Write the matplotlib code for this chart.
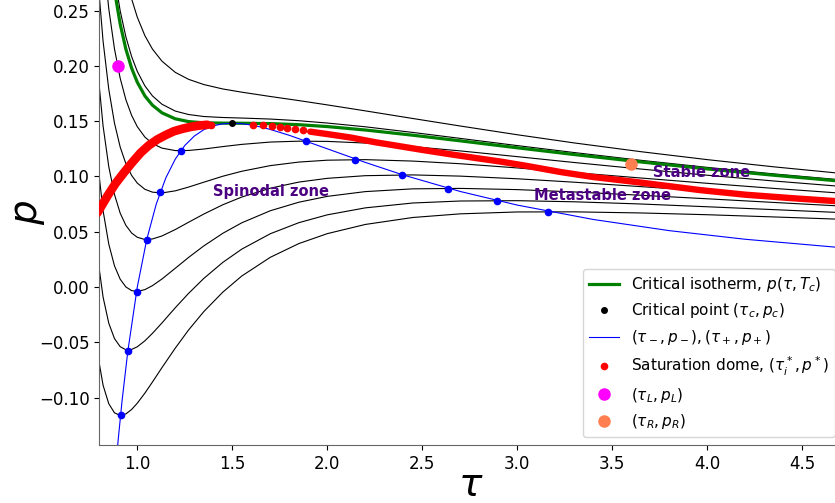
import numpy as np
import matplotlib.pyplot as plt

# tau sample positions shared by all isotherms
tau = [0.79, 0.82, 0.85, 0.88, 0.91, 0.94, 0.97, 1.00, 1.04, 1.08, 1.13, 1.20, 1.27, 1.35,
       1.45, 1.55, 1.70, 1.85, 2.00, 2.20, 2.45, 2.70, 3.00, 3.30, 3.65, 4.00, 4.35, 4.72]

# isotherms p(tau) (lowest to highest temperature)
p_iso1 = [-0.0592, -0.0888, -0.1055, -0.1137, -0.1161, -0.1147, -0.1107, -0.1050, -0.0959, -0.0858,
          -0.0728, -0.0552, -0.0388, -0.0222, -0.0046, 0.0100, 0.0269, 0.0393, 0.0483, 0.0566,
          0.0629, 0.0662, 0.0679, 0.0680, 0.0670, 0.0654, 0.0634, 0.0612]
p_iso2 = [0.0287, -0.0091, -0.0327, -0.0466, -0.0539, -0.0567, -0.0564, -0.0540, -0.0486, -0.0418,
          -0.0324, -0.0187, -0.0057, 0.0078, 0.0223, 0.0343, 0.0482, 0.0582, 0.0653, 0.0716,
          0.0760, 0.0778, 0.0781, 0.0771, 0.0751, 0.0726, 0.0700, 0.0672]
p_iso3 = [0.1149, 0.0690, 0.0388, 0.0192, 0.0071, 0.0001, -0.0032, -0.0040, -0.0023, 0.0013,
          0.0073, 0.0170, 0.0268, 0.0372, 0.0486, 0.0581, 0.0690, 0.0767, 0.0820, 0.0863,
          0.0888, 0.0892, 0.0881, 0.0860, 0.0830, 0.0798, 0.0765, 0.0731]
p_iso4 = [0.1994, 0.1456, 0.1088, 0.0837, 0.0668, 0.0558, 0.0489, 0.0450, 0.0430, 0.0435,
          0.0462, 0.0520, 0.0586, 0.0660, 0.0744, 0.0814, 0.0894, 0.0949, 0.0983, 0.1007,
          0.1014, 0.1003, 0.0979, 0.0948, 0.0908, 0.0868, 0.0829, 0.0789]
p_iso5 = [0.2839, 0.2222, 0.1788, 0.1482, 0.1266, 0.1115, 0.1010, 0.0940, 0.0884, 0.0858,
          0.0851, 0.0870, 0.0904, 0.0948, 0.1002, 0.1047, 0.1098, 0.1130, 0.1147, 0.1152,
          0.1139, 0.1115, 0.1077, 0.1035, 0.0986, 0.0938, 0.0892, 0.0847]
p_iso6 = [0.3718, 0.3019, 0.2516, 0.2153, 0.1888, 0.1694, 0.1553, 0.1450, 0.1356, 0.1297,
          0.1256, 0.1234, 0.1235, 0.1248, 0.1270, 0.1290, 0.1311, 0.1319, 0.1317, 0.1302,
          0.1270, 0.1231, 0.1179, 0.1126, 0.1067, 0.1011, 0.0959, 0.0908]
p_iso7 = [0.4580, 0.3800, 0.3231, 0.2811, 0.2497, 0.2262, 0.2085, 0.1950, 0.1819, 0.1728,
          0.1653, 0.1591, 0.1560, 0.1542, 0.1533, 0.1528, 0.1519, 0.1504, 0.1483, 0.1449,
          0.1398, 0.1344, 0.1279, 0.1216, 0.1146, 0.1082, 0.1023, 0.0967]
p_iso8 = [0.5425, 0.4565, 0.3931, 0.3455, 0.3095, 0.2819, 0.2606, 0.2440, 0.2273, 0.2151,
          0.2042, 0.1941, 0.1878, 0.1831, 0.1791, 0.1762, 0.1723, 0.1686, 0.1647, 0.1593,
          0.1524, 0.1456, 0.1377, 0.1303, 0.1224, 0.1152, 0.1087, 0.1025]
p_critical = [0.4411, 0.3646, 0.3090, 0.2681, 0.2378, 0.2151, 0.1980, 0.1852, 0.1728, 0.1644,
              0.1575, 0.1521, 0.1496, 0.1485, 0.1482, 0.1481, 0.1478, 0.1468, 0.1451, 0.1420,
              0.1373, 0.1322, 0.1259, 0.1198, 0.1131, 0.1068, 0.1011, 0.0955]

# spinodal curve
tau_spin = [0.89, 0.90, 0.92, 0.95, 1.00, 1.05, 1.10, 1.15, 1.20, 1.25, 1.30, 1.35, 1.40, 1.45,
            1.50, 1.55, 1.60, 1.65, 1.70, 1.80, 2.00, 2.20, 2.40, 2.70, 3.00, 3.40, 3.80, 4.20, 4.72]
p_spin = [-0.1560, -0.1372, -0.1027, -0.0583, 0.0, 0.0432, 0.0751, 0.0986, 0.1157, 0.1280,
          0.1365, 0.1423, 0.1458, 0.1476, 0.1481, 0.1477, 0.1465, 0.1447, 0.1425, 0.1372,
          0.1250, 0.1127, 0.1013, 0.0864, 0.0741, 0.0611, 0.0510, 0.0432, 0.0354]

# extrema of the isotherms (blue dots)
tau_min = [0.912, 0.9505, 0.996, 1.049, 1.117, 1.228]
p_min = [-0.1155, -0.0574, -0.0047, 0.0429, 0.0863, 0.1234]
tau_max = [3.16, 2.892, 2.634, 2.392, 2.144, 1.886]
p_max = [0.0683, 0.0782, 0.0890, 0.1017, 0.1150, 0.1318]

# saturation dome
tau_liq = [0.79, 0.842, 0.885, 0.929, 0.97, 1.017, 1.06, 1.105, 1.15, 1.193, 1.24, 1.281, 1.325, 1.368]
p_liq = [0.0670, 0.0821, 0.0935, 0.1033, 0.1120, 0.1213, 0.1280, 0.1334, 0.1375, 0.1409,
         0.1432, 0.1448, 0.1460, 0.1467]
tau_sat_dots = [1.386, 1.61, 1.66, 1.71, 1.75, 1.79, 1.83, 1.87]
p_sat_dots = [0.1466, 0.1469, 0.1461, 0.1455, 0.1448, 0.1440, 0.1432, 0.1424]
tau_vap = [1.91, 2.0, 2.123, 2.25, 2.386, 2.5, 2.65, 2.8, 2.91, 3.05, 3.228, 3.4, 3.6, 3.8,
           3.96, 4.2, 4.45, 4.72]
p_vap = [0.1405, 0.1383, 0.1352, 0.1310, 0.1272, 0.1240, 0.1200, 0.1162, 0.1135, 0.1095,
         0.1040, 0.0995, 0.0955, 0.0912, 0.0877, 0.0835, 0.0803, 0.0772]

tau_c, p_c = 1.5, 0.148
tau_L, p_L = 0.9, 0.2
tau_R, p_R = 3.6, 0.111

fig = plt.figure(figsize=(8.35, 5.03), dpi=100)
ax = fig.add_axes([0.1189, 0.1153, 0.8907, 0.9264])

for p in [p_iso1, p_iso2, p_iso3, p_iso4, p_iso5, p_iso6, p_iso7, p_iso8]:
    ax.plot(tau, p, color='black', lw=0.8, zorder=2)
h_crit, = ax.plot(tau, p_critical, color='green', lw=2.3, zorder=3,
                  label=r'Critical isotherm, $p(\tau,T_c)$')
h_spin, = ax.plot(tau_spin, p_spin, color='blue', lw=0.8, zorder=3,
                  label=r'$(\tau_-,p_-),(\tau_+,p_+)$')
ax.plot(tau_liq, p_liq, color='red', lw=6.3, solid_capstyle='round', zorder=4)
ax.plot(tau_vap, p_vap, color='red', lw=4.6, solid_capstyle='round', zorder=4)
h_sat, = ax.plot(tau_sat_dots, p_sat_dots, '.', color='red', ms=9, zorder=4,
                 label=r'Saturation dome, $(\tau_i^*,p^*)$')
ax.plot(tau_min + tau_max, p_min + p_max, 'o', color='blue', ms=4.5, zorder=5)
h_cp, = ax.plot(tau_c, p_c, '.', color='black', ms=8, zorder=6,
                label=r'Critical point $(\tau_c,p_c)$')
h_L, = ax.plot(tau_L, p_L, 'o', color='magenta', ms=8, zorder=6, label=r'$(\tau_L,p_L)$')
h_R, = ax.plot(tau_R, p_R, 'o', color='coral', ms=8, zorder=6, label=r'$(\tau_R,p_R)$')

zone_kw = dict(color='#4B0082', fontsize=10.5, fontweight='bold', va='center', ha='left')
ax.text(1.397, 0.0863, 'Spinodal zone', **zone_kw)
ax.text(3.086, 0.0827, 'Metastable zone', **zone_kw)
ax.text(3.713, 0.1035, 'Stable zone', **zone_kw)

ax.set_xlim(0.8, 4.714)
ax.set_ylim(-0.1428, 0.2785)
ax.set_xticks(np.arange(1.0, 4.51, 0.5))
ax.set_yticks(np.arange(-0.10, 0.251, 0.05))
ax.tick_params(labelsize=12)
ax.spines['top'].set_visible(False)
ax.spines['right'].set_visible(False)
for s in ['left', 'bottom']:
    ax.spines[s].set_color('0.4')

ax.set_xlabel(r'$\tau$', fontsize=28, labelpad=-5)
ax.set_ylabel(r'$p$', fontsize=28, labelpad=-6)

ax.legend(handles=[h_crit, h_cp, h_spin, h_sat, h_L, h_R], loc='lower right', fontsize=11)

fig.savefig('out.png', dpi=100)
